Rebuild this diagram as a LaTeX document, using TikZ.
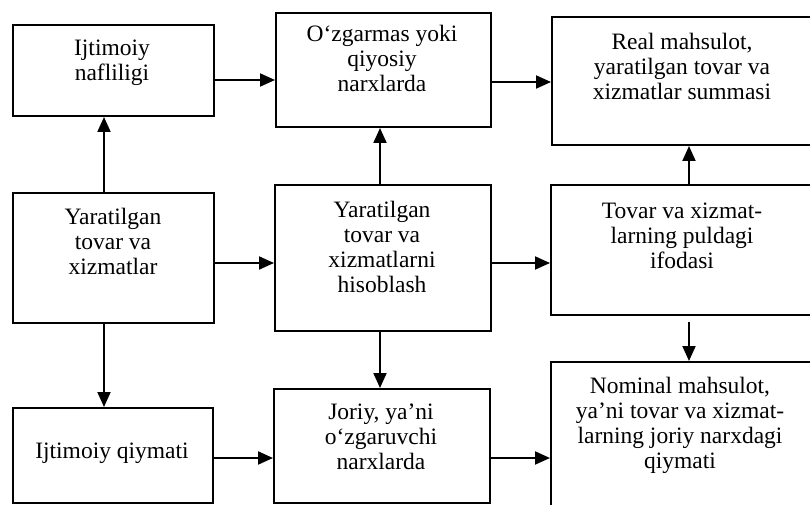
\documentclass[tikz,border=0pt]{standalone}
\usepackage{fontspec}
\setmainfont{Liberation Serif}
\usetikzlibrary{arrows.meta}
\begin{document}
\begin{tikzpicture}[x=1pt,y=-1pt,
  box/.style={draw,line width=2pt,inner sep=0pt,anchor=north west},
  txt/.style={align=center,font=\fontsize{23.5}{25}\selectfont,inner sep=0pt},
  arr/.style={line width=2pt,-{Triangle[length=15pt,width=13pt]}}]
\useasboundingbox (0,0) rectangle (810,505);
\clip (0,0) rectangle (810,505);
% boxes
\node[box,minimum width=201pt,minimum height=91pt] (A) at (12,24) {};
\node[box,minimum width=215pt,minimum height=114pt] (B) at (275,12) {};
\node[box,minimum width=270pt,minimum height=128pt] (C) at (551,16) {};
\node[box,minimum width=201pt,minimum height=130pt] (D) at (12,192) {};
\node[box,minimum width=216pt,minimum height=146pt] (E) at (274,184) {};
\node[box,minimum width=270pt,minimum height=130pt] (F) at (550,184) {};
\node[box,minimum width=200pt,minimum height=95pt] (G) at (12,407) {};
\node[box,minimum width=216pt,minimum height=114pt] (I) at (273,388) {};
\node[box,minimum width=270pt,minimum height=180pt] (H) at (550,361) {};
% texts
\node[txt] (tA) at (112,63) {Ijtimoiy\\nafliligi};
\node[txt] (tB) at (382,58) {O‘zgarmas yoki\\qiyosiy\\narxlarda};
\node[txt] (tC) at (682,66) {Real mahsulot,\\yaratilgan tovar va\\xizmatlar summasi};
\node[txt] (tD) at (113,241) {Yaratilgan\\tovar va\\xizmatlar};
\node[txt] (tE) at (382,247) {Yaratilgan\\tovar va\\xizmatlarni\\hisoblash};
\node[txt] (tF) at (682,236) {Tovar va xizmat-\\larning puldagi\\ifodasi};
\node[txt] (tG) at (112,453) {Ijtimoiy qiymati};
\node[txt] (tI) at (381,437) {Joriy, ya’ni\\o‘zgaruvchi\\narxlarda};
\node[txt] (tH) at (680,425) {Nominal mahsulot,\\ya’ni tovar va xizmat-\\larning joriy narxdagi\\qiymati};
% connectors
\draw[arr] (A.east |- 0,80) -- (B.west |- 0,80);
\draw[arr] (B.east |- 0,82) -- (C.west |- 0,82);
\draw[arr] (D.north -| 104,0) -- (A.south -| 104,0);
\draw[arr] (D.east |- 0,263) -- (E.west |- 0,263);
\draw[arr] (E.north -| 380,0) -- (B.south -| 380,0);
\draw[arr] (E.east |- 0,263) -- (F.west |- 0,263);
\draw[arr] (F.north -| 689,0) -- (C.south -| 689,0);
\draw[arr,shorten <=6pt] (F.south -| 689,0) -- (H.north -| 689,0);
\draw[arr] (D.south -| 104,0) -- (G.north -| 104,0);
\draw[arr] (G.east |- 0,458) -- (I.west |- 0,458);
\draw[arr] (E.south -| 380,0) -- (I.north -| 380,0);
\draw[arr] (I.east |- 0,458) -- (H.west |- 0,458);
\end{tikzpicture}
\end{document}
